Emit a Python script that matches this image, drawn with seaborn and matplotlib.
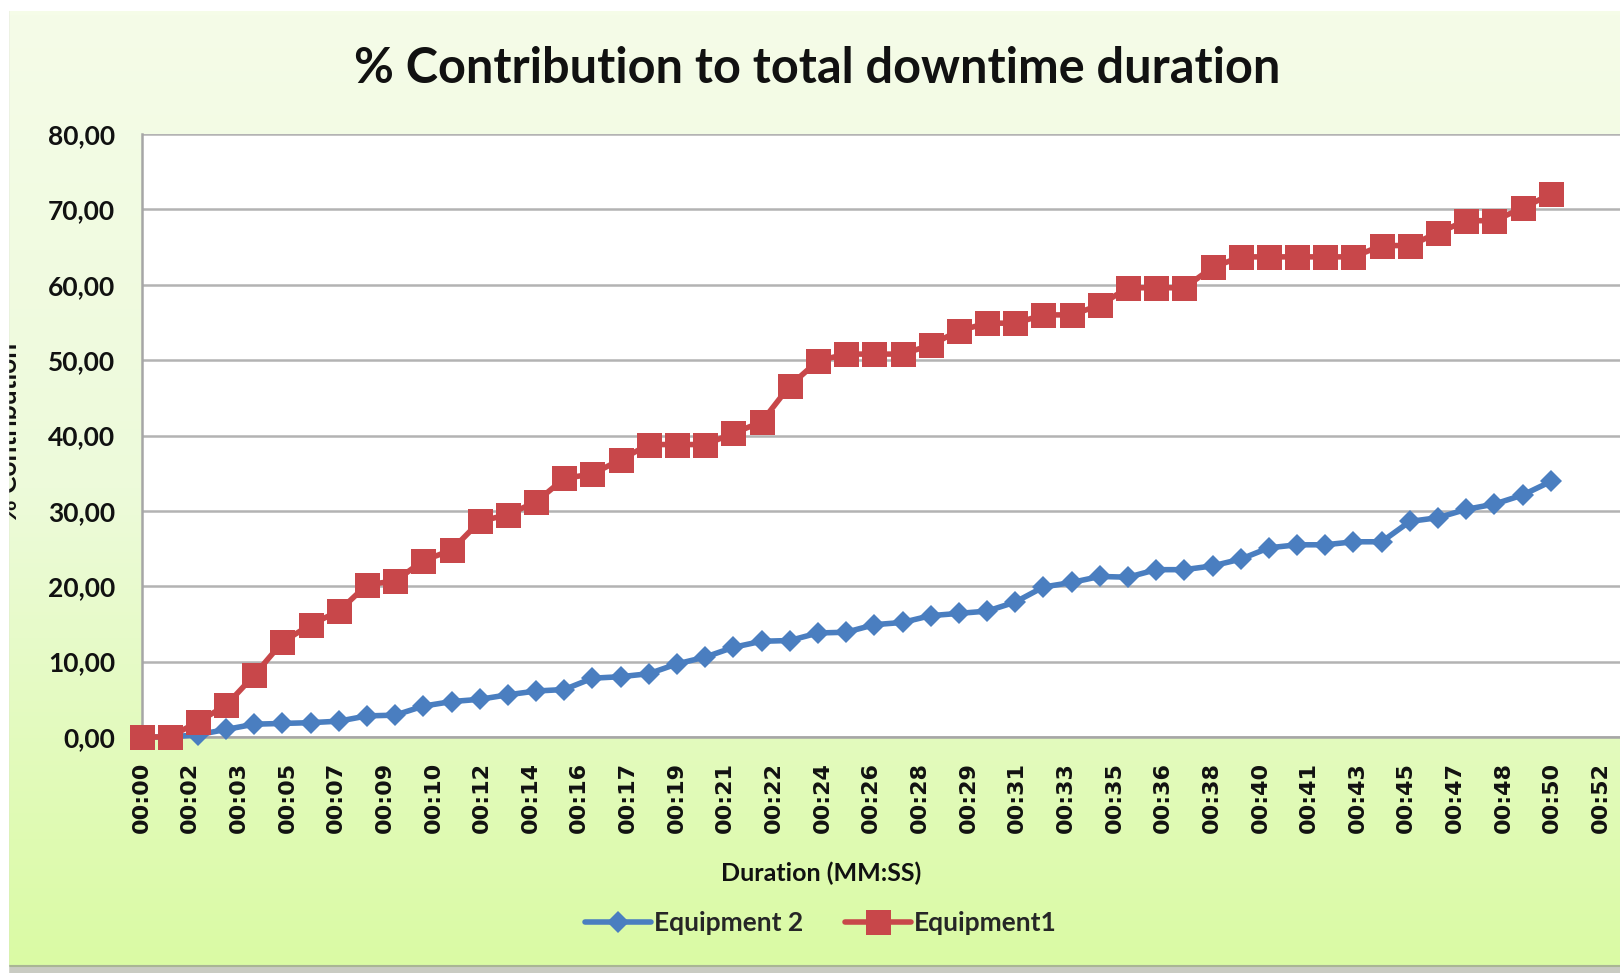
import numpy as np
import pandas as pd
import matplotlib
matplotlib.use("Agg")
import matplotlib.pyplot as plt
from matplotlib.colors import LinearSegmentedColormap
from matplotlib.ticker import FuncFormatter
import seaborn as sns

# values
minutes = [0, 1, 2, 3, 4, 5, 6, 7, 8, 9, 10, 11, 12, 13, 14, 15, 16, 17, 18, 19,
           20, 21, 22, 23, 24, 25, 26, 27, 28, 29, 30, 31, 32, 33, 34, 35, 36, 37, 38, 39,
           40, 41, 42, 43, 44, 45, 46, 47, 48, 49, 50]
equipment1 = [0.0, 0.0, 2.0, 4.2, 8.2, 12.6, 14.9, 16.7, 20.2, 20.7, 23.4, 24.8, 28.6, 29.5, 31.2, 34.3,
              34.9, 36.8, 38.8, 38.8, 38.8, 40.3, 41.8, 46.6, 49.9, 50.8, 50.8, 50.8, 52.0, 53.9,
              54.9, 54.9, 56.0, 56.0, 57.3, 59.6, 59.6, 59.6, 62.3, 63.7, 63.7, 63.7, 63.7, 63.7,
              65.2, 65.2, 66.9, 68.5, 68.5, 70.2, 72.0]
equipment2 = [0.0, 0.0, 0.3, 1.0, 1.7, 1.8, 1.9, 2.1, 2.8, 2.9, 4.1, 4.7, 5.0, 5.6, 6.1, 6.3,
              7.8, 8.0, 8.4, 9.7, 10.6, 11.9, 12.7, 12.8, 13.8, 13.9, 14.9, 15.2, 16.1, 16.4,
              16.7, 17.9, 19.9, 20.5, 21.3, 21.2, 22.2, 22.2, 22.7, 23.6, 25.1, 25.5, 25.5, 25.9,
              25.9, 28.6, 29.1, 30.2, 30.9, 32.1, 33.9]
tick_labels = ["00:00", "00:02", "00:03", "00:05", "00:07", "00:09", "00:10", "00:12",
               "00:14", "00:16", "00:17", "00:19", "00:21", "00:22", "00:24", "00:26",
               "00:28", "00:29", "00:31", "00:33", "00:35", "00:36", "00:38", "00:40",
               "00:41", "00:43", "00:45", "00:47", "00:48", "00:50", "00:52"]
tick_step = 1.726

RED = "#C8474A"
BLUE = "#4A7EC0"
INK = "#111111"
W, H = 1620, 973

sns.set_style("white")
plt.rcParams["font.family"] = ["Lato", "DejaVu Sans"]

fig = plt.figure(figsize=(W / 100, H / 100), dpi=100)

# background: Excel-like gradient chart area in pixel coordinates
bg = fig.add_axes([0, 0, 1, 1], zorder=-10)
cmap = LinearSegmentedColormap.from_list("bg", ["#F5FCE8", "#EDFADA", "#DAFBA4"])
grad = np.linspace(0, 1, 256).reshape(-1, 1)
bg.imshow(grad, aspect="auto", cmap=cmap, extent=[8, W, 966, 11])
bg.add_patch(plt.Rectangle((0, 966), W, 8, color="#C9CBC2"))
bg.plot([8, W], [966, 966], color="#A9B595", lw=1.5)
bg.plot([8, 8], [11, 966], color="black", lw=1.5)
bg.set_xlim(0, W)
bg.set_ylim(H, 0)
bg.axis("off")

# the axis title is cut by the chart border on the left
bg.text(21, 432, "% Contribution", ha="right", va="center", rotation=90,
        fontsize=19, fontweight="bold", color=INK, zorder=4)
bg.add_patch(plt.Rectangle((0, 0), 7.5, H, color="white", zorder=5))

left, top, bottom = 141.5, 134, 737
ax = fig.add_axes([left / W, (H - bottom) / H, 1 - left / W, (bottom - top) / H])
ax.set_facecolor("white")

df1 = pd.DataFrame({"minute": minutes, "value": equipment1})
df2 = pd.DataFrame({"minute": minutes, "value": equipment2})
sns.lineplot(data=df2, x="minute", y="value", ax=ax, color=BLUE, lw=4,
             marker="D", markersize=11, markeredgewidth=0, label="Equipment 2",
             clip_on=False, zorder=3)
sns.lineplot(data=df1, x="minute", y="value", ax=ax, color=RED, lw=4,
             marker="s", markersize=18, markeredgewidth=0, label="Equipment1",
             clip_on=False, zorder=4)

ax.set_xlim(0, (W - left) / ((1501 - 137) * 1.0332 / 50))
ax.set_ylim(0, 80)
ax.set_yticks(range(0, 81, 10))
ax.yaxis.set_major_formatter(FuncFormatter(lambda v, p: f"{v:.2f}".replace(".", ",")))
ax.set_xticks(np.arange(len(tick_labels)) * tick_step)
ax.set_xticklabels(tick_labels, rotation=90, fontfamily="DejaVu Sans",
                   fontweight="bold", fontsize=16, color=INK)
ax.tick_params(axis="y", length=0, pad=19, labelsize=19, labelcolor=INK)
ax.tick_params(axis="x", length=0, pad=18)
for t in ax.get_yticklabels():
    t.set_fontweight("bold")
ax.grid(axis="y", color="#B3B3B3", lw=1.8)
ax.set_axisbelow(True)
for s in ["top", "right"]:
    ax.spines[s].set_visible(False)
for s in ["left", "bottom"]:
    ax.spines[s].set_color("#A6A6A6")
    ax.spines[s].set_linewidth(1.8)
ax.set_xlabel("")
ax.set_ylabel("")

fig.text(817 / W, 1 - 69 / H, "% Contribution to total downtime duration",
         ha="center", va="center", fontsize=35, fontweight="bold", color=INK)
fig.text(821 / W, 1 - 873 / H, "Duration (MM:SS)", ha="center", va="center",
         fontsize=18, fontweight="bold", color=INK)

leg = ax.legend(loc="center", bbox_to_anchor=(821 / W, 1 - 923 / H),
                bbox_transform=fig.transFigure, ncol=2, frameon=False,
                fontsize=19, handlelength=2.5, handletextpad=0.1, columnspacing=1.6)
for t in leg.get_texts():
    t.set_fontweight("bold")

fig.savefig("out.png", dpi=100)
